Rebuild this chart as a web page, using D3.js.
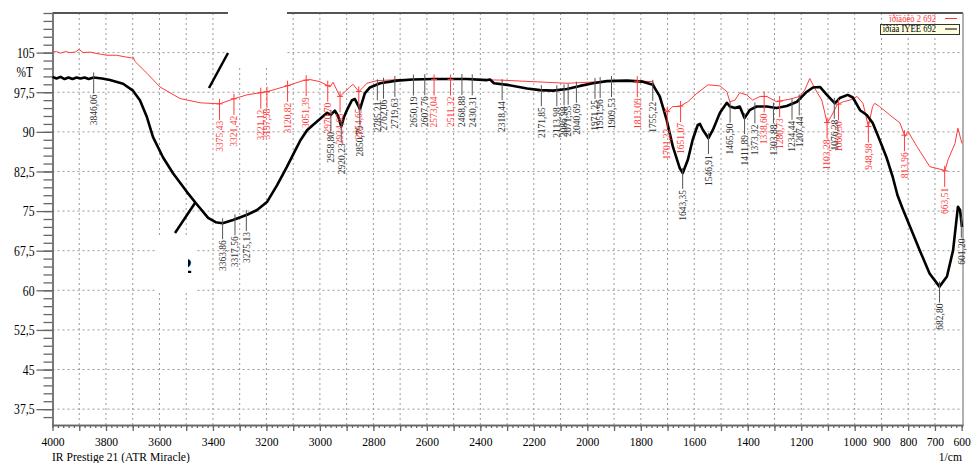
<!DOCTYPE html>
<html lang="en">
<head>
<meta charset="UTF-8">
<title>IR spectrum</title>
<script src="https://cdn.jsdelivr.net/npm/d3@7/dist/d3.min.js"></script>
<style>
    body { margin: 0; background: #fff; }
    text { font-family: "Liberation Serif", "Times New Roman", serif; }
</style>
</head>
<body>
<svg width="971" height="463"></svg>
<script>
    // spectrum data (wavenumber 1/cm, %T)
    var blackWn = [4000, 3985, 3970, 3955, 3940, 3925, 3910, 3895, 3880, 3865, 3846, 3815, 3785, 3736, 3699, 3673, 3647, 3624, 3587, 3550, 3497, 3459, 3418, 3390, 3364, 3325, 3272, 3235, 3198, 3160, 3123, 3086, 3074, 3048, 3026, 2973, 2959, 2944, 2932, 2920, 2910, 2899, 2880, 2869, 2850, 2832, 2813, 2775, 2712, 2653, 2578, 2450, 2375, 2364, 2349, 2300, 2225, 2177, 2128, 2076, 2027, 1979, 1927, 1852, 1792, 1755, 1729, 1703, 1680, 1654, 1643, 1624, 1606, 1587, 1579, 1568, 1547, 1530, 1504, 1478, 1467, 1448, 1430, 1412, 1393, 1367, 1329, 1292, 1254, 1216, 1179, 1156, 1130, 1104, 1074, 1056, 1026, 1007, 980, 955, 933, 907, 882, 858, 840, 821, 783, 757, 720, 683, 655, 632, 614, 606, 599];
    var blackT = [100.4, 100.1, 100.4, 100.0, 100.3, 100.0, 100.3, 100.1, 100.3, 100.0, 100.3, 100.1, 99.8, 99.1, 97.8, 96.0, 92.8, 89.0, 85.2, 82.2, 78.6, 76.2, 73.7, 72.9, 72.7, 73.3, 74.3, 75.2, 76.7, 79.9, 83.4, 87.1, 88.3, 90.3, 91.3, 93.6, 93.2, 94.0, 93.0, 91.0, 92.8, 94.1, 96.0, 96.2, 94.3, 97.3, 98.4, 99.2, 99.7, 99.9, 100.0, 100.0, 99.8, 99.9, 99.2, 98.9, 98.2, 97.9, 97.8, 98.1, 98.7, 99.2, 99.6, 99.7, 99.5, 98.9, 96.7, 92.2, 87.2, 83.1, 82.2, 84.7, 88.5, 91.3, 91.5, 90.4, 88.8, 90.4, 93.6, 95.5, 94.8, 94.5, 94.8, 92.6, 94.1, 94.8, 94.8, 94.5, 94.9, 95.7, 97.6, 98.4, 98.5, 97.0, 95.4, 96.4, 97.0, 96.5, 94.1, 93.2, 91.7, 88.5, 85.3, 81.5, 78.0, 75.5, 70.8, 67.6, 63.2, 60.7, 62.6, 67.6, 75.8, 75.2, 72.0];

    var redWn = [4000, 3985, 3970, 3950, 3935, 3915, 3901, 3885, 3860, 3841, 3820, 3796, 3760, 3729, 3705, 3699, 3691, 3647, 3598, 3523, 3448, 3375, 3325, 3273, 3198, 3123, 3063, 3037, 3000, 2973, 2962, 2951, 2925, 2888, 2876, 2854, 2824, 2787, 2701, 2450, 2327, 2203, 2076, 1952, 1803, 1755, 1717, 1701, 1680, 1654, 1624, 1590, 1549, 1504, 1478, 1467, 1448, 1430, 1404, 1382, 1354, 1329, 1292, 1242, 1206, 1187, 1168, 1149, 1123, 1103, 1085, 1066, 1043, 1018, 991, 969, 949, 933, 925, 907, 869, 831, 812, 801, 767, 719, 670, 663, 651, 625, 614, 599];
    var redT = [105.1, 105.2, 104.9, 105.2, 105.0, 105.1, 105.6, 105.0, 105.1, 104.9, 104.7, 104.5, 104.5, 104.2, 104.0, 104.2, 103.3, 101.1, 98.5, 96.3, 95.5, 95.3, 96.2, 97.0, 97.6, 98.7, 99.7, 99.9, 99.5, 98.8, 98.5, 99.4, 96.7, 98.5, 99.0, 97.6, 99.2, 99.7, 99.9, 99.9, 99.8, 99.5, 99.2, 99.5, 99.6, 99.5, 94.8, 93.8, 94.8, 94.8, 95.7, 97.3, 98.9, 98.7, 97.6, 95.7, 96.0, 97.4, 97.0, 96.0, 96.7, 96.7, 95.7, 96.2, 96.7, 97.9, 100.1, 98.2, 96.0, 91.7, 93.2, 95.1, 95.7, 96.0, 96.7, 95.4, 91.0, 94.8, 95.4, 94.8, 93.2, 91.7, 89.1, 90.1, 87.2, 83.4, 82.8, 82.6, 84.7, 87.8, 90.7, 87.8];

    // labelled peaks
    var blackPeaks = [3846.06, 3363.86, 3317.56, 3275.13, 2958.80, 2920.23, 2850.79, 2785.21, 2762.06, 2719.63, 2650.19, 2607.76, 2468.88, 2430.31, 2318.44, 2171.85, 2113.98, 2086.98, 2071.55, 2040.69, 1971.25, 1951.96, 1909.53, 1755.22, 1643.35, 1546.91, 1465.90, 1411.89, 1373.32, 1303.88, 1234.44, 1207.44, 1076.28, 682.80, 601.20];
    var redPeaks = [3375.43, 3321.42, 3221.12, 3197.98, 3120.82, 3051.39, 2970.70, 2924.65, 2854.65, 2573.04, 2511.32, 1813.09, 1701.22, 1651.07, 1338.60, 1280.73, 1103.28, 1060.50, 948.98, 813.96, 663.51];

    var xTickLabels = [4000, 3800, 3600, 3400, 3200, 3000, 2800, 2600, 2400, 2200, 2000, 1800, 1600, 1400, 1200, 1000, 900, 800, 700, 600];
    var yTickLabels = [37.5, 45, 52.5, 60, 67.5, 75, 82.5, 90, 97.5, 105];
    var legendNames = ["ïðîäóêò 2 692", "ïðîáà IYEE 692"];
    var legendColors = ["#ff3333", "#000"];

    var svg = d3.select("svg");

    var x = d3.scaleLinear().domain([4000, 595]).range([52.5, 963]);
    var y = d3.scaleLinear().domain([34.5, 112.5]).range([425, 13]);

    function fmt(v) {
        return String(v).replace(".", ",");
    }
    function tAt(w, wns, ts) {
        for (var i = 0; i < wns.length - 1; i++) {
            if (w <= wns[i] && w >= wns[i + 1]) {
                var f = (wns[i] - w) / (wns[i] - wns[i + 1]);
                return ts[i] + f * (ts[i + 1] - ts[i]);
            }
        }
        return ts[ts.length - 1];
    }
    // the original font is a narrow Times, squeeze glyphs horizontally
    function narrow(sel, s) {
        sel.each(function () {
            var t = d3.select(this);
            var x0 = +(t.attr("x") || 0);
            t.attr("x", x0 / s).attr("transform", "scale(" + s + ",1)");
        });
    }

    // grid
    var grid = svg.append("g").attr("stroke", "#9a9a9a").attr("stroke-dasharray", "2,3");
    grid.selectAll(".vg").data(d3.range(3900, 650, -100)).enter().append("line")
        .attr("x1", d => x(d)).attr("x2", d => x(d))
        .attr("y1", y(112.5)).attr("y2", y(34.5));
    grid.selectAll(".hg").data(yTickLabels).enter().append("line")
        .attr("x1", x(4000)).attr("x2", x(595))
        .attr("y1", d => y(d)).attr("y2", d => y(d));

    // axes
    var axisColor = "#666";
    var xMinor = d3.axisBottom(x).tickValues(d3.range(4000, 595, -20)).tickSize(3).tickSizeOuter(0).tickFormat("");
    var xMajor = d3.axisBottom(x).tickValues(d3.range(4000, 599, -100)).tickSize(6).tickSizeOuter(0).tickPadding(5)
        .tickFormat(d => xTickLabels.indexOf(d) >= 0 ? d : "");
    svg.append("g").attr("transform", "translate(0," + y(34.5) + ")").call(xMinor);
    var gx = svg.append("g").attr("transform", "translate(0," + y(34.5) + ")").call(xMajor);
    gx.selectAll("text").attr("font-size", 13.5).attr("font-family", "Liberation Serif").attr("fill", "#000");
    narrow(gx.selectAll("text"), 0.86);

    var yMinorVals = d3.range(0, 52).map(i => 36 + i * 1.5);
    var yMinor = d3.axisLeft(y).tickValues(yMinorVals).tickSize(9).tickSizeOuter(0).tickFormat("");
    var yMajor = d3.axisLeft(y).tickValues(yTickLabels).tickSize(16).tickSizeOuter(0).tickPadding(2)
        .tickFormat(fmt);
    svg.append("g").attr("transform", "translate(" + x(4000) + ",0)").call(yMinor);
    var gy = svg.append("g").attr("transform", "translate(" + x(4000) + ",0)").call(yMajor);
    gy.selectAll("text").attr("font-size", 15).attr("font-family", "Liberation Serif").attr("fill", "#000");
    narrow(gy.selectAll("text"), 0.78);
    svg.selectAll(".domain, .tick line").attr("stroke", axisColor).attr("stroke-width", 1.3);

    // frame top / right
    svg.append("line").attr("x1", x(4000)).attr("x2", x(595)).attr("y1", y(112.5)).attr("y2", y(112.5))
        .attr("stroke", "#555").attr("stroke-width", 2);
    svg.append("line").attr("x1", x(595)).attr("x2", x(595)).attr("y1", y(112.5)).attr("y2", y(34.5))
        .attr("stroke", "#888").attr("stroke-width", 1.3);

    var t1 = svg.append("text").attr("x", 33).attr("y", 77).attr("text-anchor", "end").attr("font-size", 15).text("%T");
    var t2 = svg.append("text").attr("x", 52).attr("y", 461).attr("font-size", 13.5).text("IR Prestige 21 (ATR Miracle)");
    var t3 = svg.append("text").attr("x", 962).attr("y", 461).attr("text-anchor", "end").attr("font-size", 13.5).text("1/cm");
    narrow(t1, 0.76);
    narrow(t2, 0.86);
    narrow(t3, 0.86);

    // curves
    var line = d3.line().x(d => x(d[0])).y(d => y(d[1]));
    svg.append("path").datum(d3.zip(redWn, redT)).attr("d", line)
        .attr("fill", "none").attr("stroke", "#ff3b3b").attr("stroke-width", 1);
    svg.append("path").datum(d3.zip(blackWn, blackT)).attr("d", line)
        .attr("fill", "none").attr("stroke", "#000").attr("stroke-width", 2.6).attr("stroke-linejoin", "round");

    // peak markers and labels
    function peaks(list, wns, ts, color, lineColor, cross) {
        var g = svg.append("g");
        list.forEach(function (p) {
            var px = x(p), py = y(tAt(p, wns, ts));
            var top = py + 17;
            g.append("line").attr("x1", px).attr("x2", px).attr("y1", py - 5).attr("y2", top - 1)
                .attr("stroke", lineColor).attr("stroke-width", 1);
            if (cross) {
                g.append("line").attr("x1", px - 3).attr("x2", px + 3).attr("y1", py).attr("y2", py)
                    .attr("stroke", lineColor).attr("stroke-width", 1);
            }
            g.append("text")
                .attr("transform", "translate(" + (px + 3.3) + "," + top + ") rotate(-90)")
                .attr("text-anchor", "end").attr("font-size", 9.5).attr("fill", color)
                .text(p.toFixed(2).replace(".", ","));
        });
    }
    peaks(redPeaks, redWn, redT, "#ff3b3b", "#ff3b3b", true);
    peaks(blackPeaks, blackWn, blackT, "#333", "#555", false);

    // legend
    var lg = svg.append("g");
    lg.append("rect").attr("x", 880.5).attr("y", 24.5).attr("width", 79).attr("height", 10)
        .attr("fill", "#ffffe0").attr("stroke", "#333").attr("stroke-width", 1);
    legendNames.forEach(function (n, i) {
        var t = lg.append("text").attr("x", 936).attr("y", 22 + i * 10.5).attr("text-anchor", "end")
            .attr("font-size", 11).attr("fill", legendColors[i]).text(n);
        narrow(t, 0.78);
        lg.append("line").attr("x1", 945).attr("x2", 957).attr("y1", 18.5 + i * 10.5).attr("y2", 18.5 + i * 10.5)
            .attr("stroke", legendColors[i]).attr("stroke-width", 1);
    });

    // scan artefacts over the picture
    svg.append("rect").attr("x", 228).attr("y", 0).attr("width", 59).attr("height", 66).attr("fill", "#fff");
    svg.append("line").attr("x1", 228).attr("y1", 53).attr("x2", 209).attr("y2", 88)
        .attr("stroke", "#000").attr("stroke-width", 2.5);
    svg.append("rect").attr("x", 157).attr("y", 236).attr("width", 38).attr("height", 56).attr("fill", "#fff");
    svg.append("line").attr("x1", 195).attr("y1", 203).attr("x2", 175).attr("y2", 233)
        .attr("stroke", "#000").attr("stroke-width", 2.5);
    svg.append("clipPath").attr("id", "cut").append("rect").attr("x", 188).attr("y", 240).attr("width", 8).attr("height", 40);
    svg.append("text").attr("x", 181).attr("y", 273).attr("font-size", 22).attr("font-weight", "bold")
        .attr("clip-path", "url(#cut)").text("2");
</script>
</body>
</html>
